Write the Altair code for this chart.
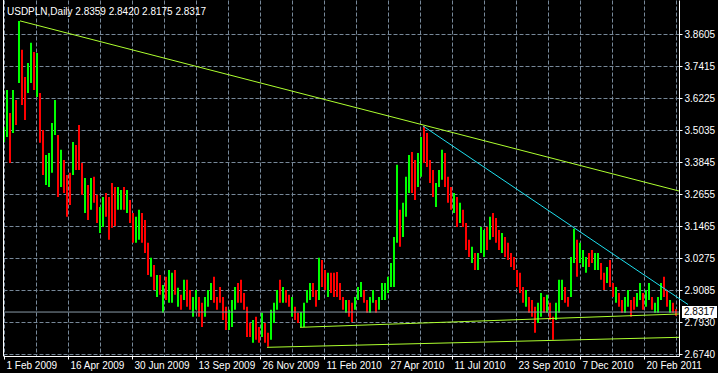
import altair as alt
import pandas as pd

# ---------------- data ----------------
symbol = "USDPLN"
timeframe = "Daily"
last_ohlc = [2.8359, 2.8420, 2.8175, 2.8317]   # open, high, low, close of last bar
current_price = 2.8317

bar_step = 3  # one drawn candle per 3 trading days

highs = [
    3.522, 3.660, 3.574, 3.660, 3.623, 3.918, 3.810, 3.709, 3.761, 3.836,
    3.802, 3.798, 3.649, 3.511, 3.418, 3.425, 3.537, 3.623, 3.492, 3.437,
    3.399, 3.343, 3.351, 3.466, 3.455, 3.530, 3.388, 3.332, 3.306, 3.332,
    3.336, 3.269, 3.224, 3.261, 3.276, 3.261, 3.313, 3.298, 3.298, 3.287,
    3.298, 3.287, 3.250, 3.201, 3.187, 3.213, 3.201, 3.175, 3.090, 3.034,
    3.007, 2.970, 2.970, 2.933, 2.963, 2.989, 2.978, 2.989, 2.922, 2.896,
    2.952, 2.952, 2.914, 2.888, 2.914, 2.888, 2.866, 2.888, 2.914, 2.940,
    2.963, 2.888, 2.925, 2.888, 2.851, 2.840, 2.877, 2.925, 2.940, 2.952,
    2.903, 2.851, 2.791, 2.802, 2.814, 2.776, 2.829, 2.791, 2.754, 2.840,
    2.866, 2.914, 2.952, 2.925, 2.914, 2.896, 2.888, 2.851, 2.829, 2.832,
    2.866, 2.914, 2.940, 2.940, 2.914, 3.034, 3.026, 2.989, 2.978, 2.978,
    2.978, 2.981, 2.940, 2.888, 2.877, 2.877, 2.866, 2.888, 2.925, 2.944,
    2.914, 2.877, 2.888, 2.914, 2.877, 2.888, 2.940, 2.940, 2.963, 3.015,
    3.112, 3.381, 3.213, 3.239, 3.336, 3.418, 3.429, 3.399, 3.425, 3.485,
    3.526, 3.500, 3.399, 3.362, 3.313, 3.362, 3.437, 3.425, 3.336, 3.298,
    3.276, 3.261, 3.239, 3.213, 3.164, 3.101, 3.075, 3.052, 3.052, 3.149,
    3.138, 3.149, 3.187, 3.201, 3.183, 3.138, 3.127, 3.112, 3.090, 3.052,
    3.037, 2.989, 2.978, 2.925, 2.914, 2.888, 2.877, 2.851, 2.866, 2.903,
    2.888, 2.896, 2.866, 2.814, 2.866, 2.952, 2.952, 2.925, 2.888, 3.037,
    3.142, 3.101, 3.090, 3.063, 3.037, 3.052, 3.063, 3.052, 3.052, 3.015,
    2.978, 3.000, 3.026, 2.940, 2.925, 2.903, 2.877, 2.888, 2.914, 2.877,
    2.888, 2.903, 2.940, 2.903, 2.914, 2.940, 2.888, 2.866, 2.888, 2.940,
    2.963, 2.914, 2.877, 2.866, 2.842,
]

lows = [
    3.466, 3.485, 3.388, 3.500, 3.530, 3.686, 3.604, 3.548, 3.649, 3.686,
    3.660, 3.634, 3.463, 3.343, 3.306, 3.298, 3.351, 3.492, 3.261, 3.298,
    3.276, 3.187, 3.231, 3.343, 3.362, 3.362, 3.269, 3.201, 3.175, 3.213,
    3.239, 3.164, 3.127, 3.149, 3.187, 3.101, 3.146, 3.153, 3.213, 3.213,
    3.213, 3.201, 3.164, 3.090, 3.090, 3.101, 3.090, 3.052, 2.970, 2.963,
    2.914, 2.888, 2.896, 2.829, 2.877, 2.866, 2.866, 2.896, 2.851, 2.840,
    2.877, 2.851, 2.840, 2.814, 2.840, 2.814, 2.776, 2.814, 2.851, 2.877,
    2.866, 2.840, 2.866, 2.802, 2.765, 2.765, 2.776, 2.840, 2.866, 2.866,
    2.840, 2.739, 2.739, 2.717, 2.728, 2.717, 2.739, 2.717, 2.702, 2.728,
    2.791, 2.840, 2.866, 2.866, 2.866, 2.851, 2.814, 2.802, 2.791, 2.776,
    2.776, 2.866, 2.877, 2.888, 2.851, 2.877, 2.925, 2.914, 2.888, 2.903,
    2.888, 2.888, 2.877, 2.840, 2.829, 2.814, 2.795, 2.840, 2.877, 2.888,
    2.866, 2.829, 2.829, 2.866, 2.829, 2.840, 2.877, 2.877, 2.903, 2.925,
    2.925, 3.090, 3.075, 3.112, 3.187, 3.276, 3.276, 3.250, 3.298, 3.336,
    3.388, 3.373, 3.313, 3.261, 3.224, 3.298, 3.325, 3.298, 3.239, 3.213,
    3.201, 3.149, 3.164, 3.149, 3.063, 3.037, 3.015, 2.989, 2.989, 3.052,
    3.037, 3.063, 3.101, 3.112, 3.090, 3.063, 3.052, 3.037, 3.026, 3.000,
    2.989, 2.925, 2.903, 2.866, 2.851, 2.829, 2.814, 2.754, 2.791, 2.814,
    2.829, 2.829, 2.802, 2.728, 2.802, 2.829, 2.877, 2.866, 2.851, 2.888,
    3.015, 2.963, 3.015, 3.000, 2.978, 3.000, 3.015, 2.989, 2.989, 2.952,
    2.914, 2.940, 2.925, 2.888, 2.866, 2.851, 2.829, 2.829, 2.851, 2.814,
    2.840, 2.851, 2.877, 2.840, 2.851, 2.877, 2.840, 2.829, 2.829, 2.877,
    2.888, 2.851, 2.829, 2.829, 2.8175,
]

# G = bullish (green) candle, R = bearish (red) candle
direction = list(
    "GGRGRGRRGG" "RGRRGGGGRG" "RRRGRRRGRG" "RRGGRRRRGG" "RGRRGGRRRG"
    "RGRGRGGRGR" "GRRGGRRGGG" "RRRRRGGGRR" "RRRGRRGRRG" "GGRGRRGRRG"
    "GGGRRGRRGR" "RRRRGRRGGG" "RRGGRGGGGG" "GGRGGGRRGG" "RRRRGGGRRR"
    "GRGRRRGRGG" "GRGRRRGRRR" "RRRRGRRRGG" "RGRRGGGRRG" "GRGGGRRGGR"
    "RGRRGRRGGR" "RGGRGGRGGG" "RRGRR"
)

# time axis (bar numbers and their dates)
x_tick_bars = [1, 65, 129, 193, 257, 321, 385, 449, 513, 577, 641]
x_tick_labels = ["1 Feb 2009", "16 Apr 2009", "30 Jun 2009", "13 Sep 2009",
                 "26 Nov 2009", "11 Feb 2010", "27 Apr 2010", "11 Jul 2010",
                 "23 Sep 2010", "7 Dec 2010", "20 Feb 2011"]

# price axis
y_tick_values = [2.6740, 2.7934, 2.9128, 3.0322, 3.1516, 3.2710,
                 3.3904, 3.5098, 3.6292, 3.7486, 3.8680]
y_tick_labels = ["2.6740", "2.7930", "2.9085", "3.0275", "3.1465", "3.2655",
                 "3.3845", "3.5035", "3.6225", "3.7415", "3.8605"]

# hand-drawn trend lines (bar, price)
resistance_bars, resistance_prices = [17, 676], [3.9180, 3.2833]
falling_bars, falling_prices = [420, 685], [3.5258, 2.8598]
support_a_bars, support_a_prices = [297, 676], [2.7747, 2.8244]
support_b_bars, support_b_prices = [264, 676], [2.7001, 2.7374]

# ---------------- chart ----------------
FONT = "Liberation Sans, Arial, sans-serif"
FS = 10
GRID = "#778899"
LINE_GREEN = "#adff2f"
LINE_CYAN = "#1ee0f0"

assert len(highs) == len(lows) == len(direction)

candles = pd.DataFrame({
    "bar": [1 + bar_step * k for k in range(len(highs))],
    "high": highs,
    "low": lows,
    "dir": ["up" if d == "G" else "down" for d in direction],
})

xscale = alt.Scale(domain=[0, 676], nice=False, zero=False)
yscale = alt.Scale(domain=[2.6677, 3.9959], nice=False, zero=False)

grid_bars = sorted(x_tick_bars + [b + 32 for b in x_tick_bars])

x_label_expr = " : ".join(
    f"datum.value == {b} ? '{t}'" for b, t in zip(x_tick_bars, x_tick_labels)
) + " : ''"
y_label_expr = " : ".join(
    f"abs(datum.value - {v}) < 0.002 ? '{t}'" for v, t in zip(y_tick_values, y_tick_labels)
) + " : ''"

x_axis = alt.Axis(
    values=grid_bars, tickCount=60, title=None, orient="bottom",
    grid=True, gridColor=GRID, gridDash=[4, 2], gridWidth=1, gridOpacity=1,
    domainColor="white", domainWidth=1,
    tickColor={"condition": {"test": f"indexof({x_tick_bars}, datum.value) >= 0",
                             "value": "white"},
               "value": "rgba(0,0,0,0)"},
    tickSize=3, tickWidth=1,
    labelExpr=x_label_expr, labelColor="white", labelFont=FONT, labelFontSize=FS,
    labelAlign="left", labelBaseline="top", labelPadding=1, labelOffset=2,
    labelOverlap=False, labelFlush=False,
)

y_axis = alt.Axis(
    values=y_tick_values, tickCount=60, title=None, orient="right",
    grid=True, gridColor=GRID, gridDash=[4, 2], gridWidth=1, gridOpacity=1,
    domainColor="white", domainWidth=1,
    tickColor="white", tickSize=3, tickWidth=1,
    labelExpr=y_label_expr, labelColor="white", labelFont=FONT, labelFontSize=FS,
    labelAlign="left", labelBaseline="middle", labelPadding=2,
    labelOverlap=False, labelFlush=False,
)

candle_layer = alt.Chart(candles).mark_rule(strokeWidth=2).encode(
    x=alt.X("bar:Q", scale=xscale, axis=x_axis),
    y=alt.Y("low:Q", scale=yscale, axis=y_axis),
    y2="high:Q",
    color=alt.Color("dir:N", scale=alt.Scale(domain=["up", "down"],
                                             range=["#00ff00", "#ff0000"]),
                    legend=None),
)

price_line = alt.Chart(pd.DataFrame({"price": [current_price]})).mark_rule(
    color="#8a9aa8", strokeWidth=1
).encode(y=alt.Y("price:Q", scale=yscale))


def trend(bars, prices, color):
    df = pd.DataFrame({"bar": bars, "price": prices})
    return alt.Chart(df).mark_line(color=color, strokeWidth=1, clip=False).encode(
        x=alt.X("bar:Q", scale=xscale),
        y=alt.Y("price:Q", scale=yscale),
    )


res_line = trend(resistance_bars, resistance_prices, LINE_GREEN)
fall_line = trend(falling_bars, falling_prices, LINE_CYAN)
sup_a = trend(support_a_bars, support_a_prices, LINE_GREEN)
sup_b = trend(support_b_bars, support_b_prices, LINE_GREEN)

title_text = f"{symbol},{timeframe}  " + " ".join(f"{v:.4f}" for v in last_ohlc)
title_layer = alt.Chart(pd.DataFrame({"t": [title_text]})).mark_text(
    align="left", baseline="alphabetic", color="white", font=FONT, fontSize=FS
).encode(text="t:N", x=alt.value(4), y=alt.value(14.5))

box_df = pd.DataFrame({"price": [current_price], "label": [f"{current_price:.4f}"]})
box = alt.Chart(box_df).mark_rect(color="white", yOffset=-6, y2Offset=6, clip=False).encode(
    x=alt.value(679), x2=alt.value(714),
    y=alt.Y("price:Q", scale=yscale), y2="price:Q",
)
box_text = alt.Chart(box_df).mark_text(
    align="left", baseline="middle", color="black", font=FONT, fontSize=FS, clip=False
).encode(x=alt.value(681), y=alt.Y("price:Q", scale=yscale), text="label:N")

left_border = alt.Chart(pd.DataFrame({"a": [0]})).mark_rule(color="white").encode(
    x=alt.value(0.5), y=alt.value(0), y2=alt.value(356)
)

chart = alt.layer(
    candle_layer, price_line, res_line, fall_line, sup_a, sup_b,
    title_layer, box, box_text, left_border,
).properties(
    width=676, height=356,
    autosize=alt.AutoSizeParams(type="none"),
    padding={"left": 3, "top": 0, "right": 39, "bottom": 17},
    background="black",
).configure_view(stroke=None)

chart.save("out.html", embed_options={"renderer": "svg", "actions": False})
